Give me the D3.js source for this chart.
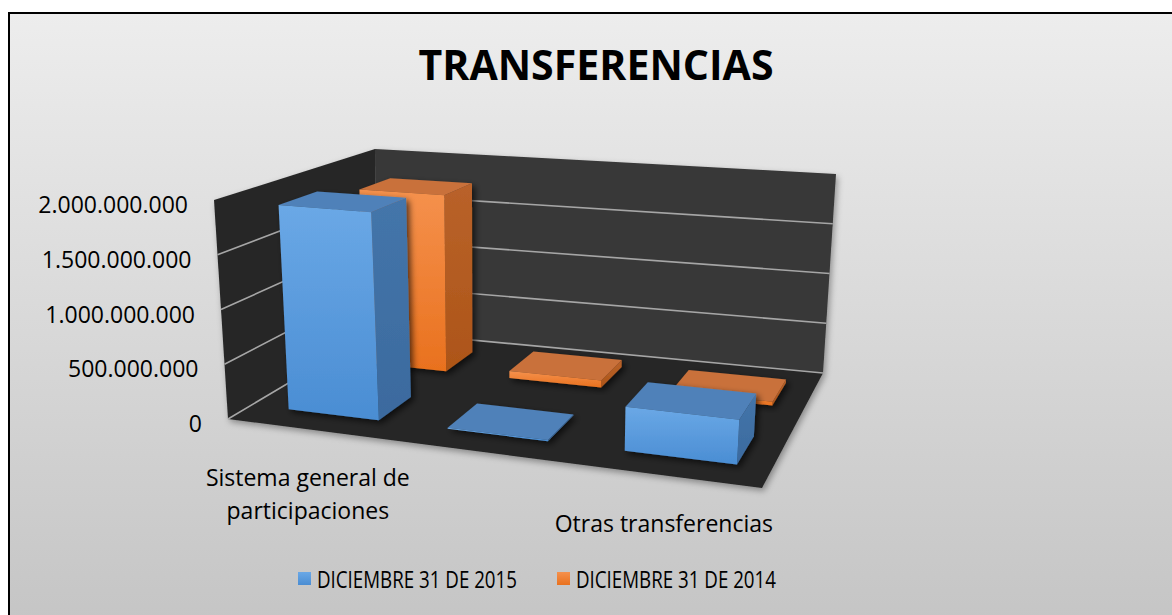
<!DOCTYPE html>
<html lang="es">
  <head>
    <meta charset="UTF-8" />
    <title>Transferencias</title>
    <script src="https://d3js.org/d3.v7.min.js"></script>
    <style>
      body { margin: 0; background: #fff; }
      text { font-family: "Open Sans", sans-serif; fill: #000; }
    </style>
  </head>
  <body>
    <div id="graph"></div>
    <script>
      // data
      const categories = [
        "Sistema general de participaciones",
        "Sistema general de regalías",
        "Otras transferencias",
      ];
      const series = ["DICIEMBRE 31 DE 2015", "DICIEMBRE 31 DE 2014"];
      const values2015 = [1900000000, 10000000, 380000000];
      const values2014 = [1770000000, 70000000, 35000000];
      const yTicks = [0, 500000000, 1000000000, 1500000000, 2000000000];

      const seriesValues = [values2015, values2014];
      const labelEvery = 2; // excel skips every other category label

      const width = 1172, height = 615;

      const svg = d3
        .select("#graph")
        .append("svg")
        .attr("width", width)
        .attr("height", height);

      const defs = svg.append("defs");

      function vGrad(id, stops) {
        const g = defs.append("linearGradient").attr("id", id)
          .attr("x1", 0).attr("y1", 0).attr("x2", 0).attr("y2", 1);
        stops.forEach((c, i) => g.append("stop")
          .attr("offset", i / (stops.length - 1)).attr("stop-color", c));
      }
      vGrad("bg", ["#ededed", "#bfbfbf"]);
      vGrad("blueFront", ["#6aa8e6", "#4a8dd3"]);
      vGrad("blueSide", ["#4475aa", "#3b6a9e"]);
      vGrad("orangeFront", ["#f5914d", "#e9711e"]);
      vGrad("orangeSide", ["#b9622a", "#ad5518"]);

      const shadow = defs.append("filter").attr("id", "shadow")
        .attr("x", "-20%").attr("y", "-20%").attr("width", "140%").attr("height", "140%");
      shadow.append("feDropShadow").attr("dx", 3).attr("dy", 3)
        .attr("stdDeviation", 3).attr("flood-color", "#000").attr("flood-opacity", 0.65);

      const wallShadow = defs.append("filter").attr("id", "wallShadow")
        .attr("x", "-10%").attr("y", "-10%").attr("width", "120%").attr("height", "120%");
      wallShadow.append("feDropShadow").attr("dx", 2).attr("dy", 3)
        .attr("stdDeviation", 3).attr("flood-color", "#000").attr("flood-opacity", 0.35);

      // chart area
      svg.append("rect")
        .attr("x", 9).attr("y", 13)
        .attr("width", 1200).attr("height", 700)
        .attr("fill", "url(#bg)")
        .attr("stroke", "#000").attr("stroke-width", 2);

      svg.append("text")
        .attr("x", 596).attr("y", 80)
        .attr("text-anchor", "middle")
        .attr("font-size", 41).attr("font-weight", "bold")
        .attr("textLength", 355).attr("lengthAdjust", "spacingAndGlyphs")
        .text("TRANSFERENCIAS");

      // 3d box corners on screen (front/back, left/right, bottom/top)
      const box = {
        flb: [228, 419], frb: [762, 488], blb: [376, 331], brb: [823, 373],
        flt: [214, 200], frt: [777, 244], blt: [375, 149], brt: [836, 174],
      };

      // unit square -> quad, so depth foreshortening looks right
      function homography(p0, p1, p2, p3) {
        const dx1 = p1[0] - p2[0], dx2 = p3[0] - p2[0], dx3 = p0[0] - p1[0] + p2[0] - p3[0];
        const dy1 = p1[1] - p2[1], dy2 = p3[1] - p2[1], dy3 = p0[1] - p1[1] + p2[1] - p3[1];
        const det = dx1 * dy2 - dx2 * dy1;
        const g = (dx3 * dy2 - dx2 * dy3) / det;
        const h = (dx1 * dy3 - dx3 * dy1) / det;
        const a = p1[0] - p0[0] + g * p1[0], b = p3[0] - p0[0] + h * p3[0], c = p0[0];
        const d = p1[1] - p0[1] + g * p1[1], e = p3[1] - p0[1] + h * p3[1], f = p0[1];
        return (u, w) => {
          const k = g * u + h * w + 1;
          return [(a * u + b * w + c) / k, (d * u + e * w + f) / k];
        };
      }
      const floorH = homography(box.flb, box.frb, box.brb, box.blb);
      const topH = homography(box.flt, box.frt, box.brt, box.blt);

      function proj(u, w, v) {
        const b = floorH(u, w), t = topH(u, w);
        return [b[0] + (t[0] - b[0]) * v, b[1] + (t[1] - b[1]) * v];
      }
      const poly = (pts) => "M" + pts.map((p) => p.join(",")).join("L") + "Z";

      const y = d3.scaleLinear().domain([0, 2000000000]).range([0, 1]);
      const x = d3.scaleBand().domain(categories).range([0.012, 1.012])
        .paddingInner(0.42).paddingOuter(0.21);
      const z = d3.scaleBand().domain(series).range([0, 1])
        .paddingInner(0.55).paddingOuter(0.275);

      const fmt = d3.formatLocale({ decimal: ",", thousands: ".", grouping: [3], currency: ["$", ""] }).format(",.0f");

      // walls + floor
      const walls = svg.append("g").attr("filter", "url(#wallShadow)");
      walls.append("path")
        .attr("d", poly([proj(0, 0, 0), proj(0, 1, 0), proj(0, 1, 1), proj(0, 0, 1)]))
        .attr("fill", "#282828");
      walls.append("path")
        .attr("d", poly([proj(0, 1, 0), proj(1, 1, 0), proj(1, 1, 1), proj(0, 1, 1)]))
        .attr("fill", "#383838");
      walls.append("path")
        .attr("d", poly([proj(0, 0, 0), proj(1, 0, 0), proj(1, 1, 0), proj(0, 1, 0)]))
        .attr("fill", "#262626");

      // gridlines on left and back walls
      svg.append("g")
        .selectAll("path")
        .data(yTicks.filter((t) => t < y.domain()[1]))
        .join("path")
        .attr("d", (t) => {
          const v = y(t);
          return "M" + [proj(0, 0, v), proj(0, 1, v), proj(1, 1, v)].map((p) => p.join(",")).join("L");
        })
        .attr("fill", "none")
        .attr("stroke", "#a6a6a6")
        .attr("stroke-width", 1.6);

      // value axis labels
      svg.append("g")
        .selectAll("text")
        .data(yTicks)
        .join("text")
        .attr("x", (t) => proj(0, 0, y(t))[0] - 26)
        .attr("y", (t) => proj(0, 0, y(t))[1] + 4)
        .attr("text-anchor", "end")
        .attr("dominant-baseline", "central")
        .attr("font-size", 23)
        .text((t) => fmt(t));

      // bars, back row first
      const colors = [
        { front: "url(#blueFront)", top: "#4f81b9", side: "url(#blueSide)" },
        { front: "url(#orangeFront)", top: "#c9713b", side: "url(#orangeSide)" },
      ];
      const bars = [];
      series.forEach((s, si) => {
        categories.forEach((c, ci) => {
          bars.push({ s, si, c, value: seriesValues[si][ci] });
        });
      });
      bars.sort((a, b) => b.si - a.si);

      const barG = svg.append("g");
      bars.forEach((d) => {
        const u0 = x(d.c), u1 = u0 + x.bandwidth();
        const w0 = z(d.s), w1 = w0 + z.bandwidth();
        const v = y(d.value);
        const col = colors[d.si];
        const g = barG.append("g").attr("filter", "url(#shadow)");
        g.append("path")
          .attr("d", poly([proj(u1, w0, 0), proj(u1, w1, 0), proj(u1, w1, v), proj(u1, w0, v)]))
          .attr("fill", col.side);
        g.append("path")
          .attr("d", poly([proj(u0, w0, v), proj(u1, w0, v), proj(u1, w1, v), proj(u0, w1, v)]))
          .attr("fill", col.top);
        g.append("path")
          .attr("d", poly([proj(u0, w0, 0), proj(u1, w0, 0), proj(u1, w0, v), proj(u0, w0, v)]))
          .attr("fill", col.front);
      });

      // category labels
      const catG = svg.append("g");
      categories.forEach((c, i) => {
        if (i % labelEvery !== 0) return;
        const p = proj(x(c) + x.bandwidth() / 2, 0, 0);
        const t = catG.append("text")
          .attr("text-anchor", "middle")
          .attr("font-size", 23)
          .attr("dominant-baseline", "central");
        // simple greedy wrap
        const words = c.split(" ");
        let lines = [], line = [];
        const probe = catG.append("text").attr("font-size", 23);
        words.forEach((wd) => {
          const test = line.concat(wd).join(" ");
          probe.text(test);
          if (probe.node().getComputedTextLength() > 235 && line.length) {
            lines.push(line.join(" "));
            line = [wd];
          } else line.push(wd);
        });
        lines.push(line.join(" "));
        probe.remove();
        lines.forEach((l, li) => {
          t.append("tspan")
            .attr("x", p[0] - 3)
            .attr("y", p[1] + 47 + li * 33)
            .text(l);
        });
      });

      // legend
      const legendX = [298, 557];
      const legendW = [200, 200];
      const legend = svg.append("g");
      series.forEach((s, i) => {
        legend.append("rect")
          .attr("x", legendX[i]).attr("y", 572)
          .attr("width", 13).attr("height", 13)
          .attr("fill", colors[i].front);
        legend.append("text")
          .attr("x", legendX[i] + 19).attr("y", 579)
          .attr("dominant-baseline", "central")
          .attr("font-size", 23)
          .attr("textLength", legendW[i]).attr("lengthAdjust", "spacingAndGlyphs")
          .text(s);
      });
    </script>
  </body>
</html>
